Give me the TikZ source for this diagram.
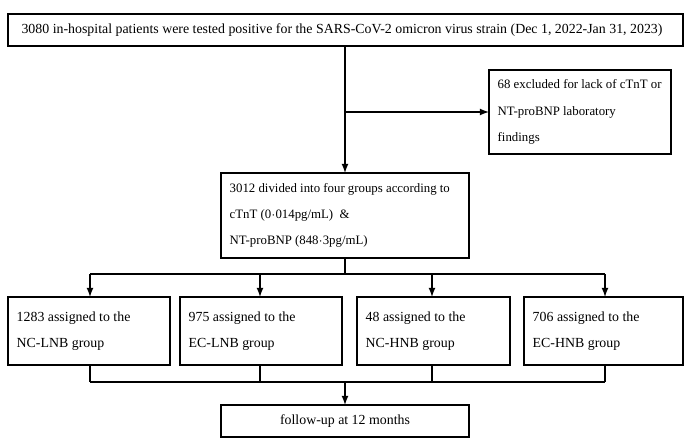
\documentclass[tikz,border=0pt]{standalone}
\usepackage{fontspec}
\setmainfont{Liberation Serif}
\usetikzlibrary{arrows,positioning}
\begin{document}
\begin{tikzpicture}[x=0.02cm,y=-0.02cm,font=\fontsize{7.9}{15}\selectfont,
  box/.style={draw,thick,inner sep=0pt},
  txt/.style={align=left,inner sep=0pt},
  small/.style={font=\fontsize{7.3}{15}\selectfont},
  every path/.style={thick},arr/.style={-latex}]
	\useasboundingbox (0,0) rectangle (692,447);
	% boxes
	\draw (8,14) rectangle (683,46);
	\node[txt] (top) at (342,30) {3080 in-hospital patients were tested positive for the SARS-CoV-2 omicron virus strain (Dec 1, 2022-Jan 31, 2023)};
	\draw (489,70) rectangle (671,154);
	\node[txt,small,anchor=west] (excl) at (497,112) {68 excluded for lack of cTnT or\\NT-proBNP laboratory\\findings};
	\draw (221,173) rectangle (469,258);
	\node[txt,small,anchor=west] (mid) at (229,215.5) {3012 divided into four groups according to\\cTnT (0$\cdot$014pg/mL)\ \ \&\\NT-proBNP (848$\cdot$3pg/mL)};
	\foreach \xa/\xb/\name/\t in {8/170/g1/{1283 assigned to the\\NC-LNB group},180/342/g2/{975 assigned to the\\EC-LNB group},357/510/g3/{48 assigned to the\\NC-HNB group},524/683/g4/{706 assigned to the\\EC-HNB group}}{
		\draw (\xa,297) rectangle (\xb,365);
		\node[txt,anchor=west] (\name) at (\xa+8,331) {\t};
	}
	\draw (221,405) rectangle (469,437);
	\node[txt] (fu) at (345,421) {follow-up at 12 months};
	% connectors
	\coordinate (a) at (345,46);
	\coordinate (b) at (345,173);
	\coordinate (c) at (345,112);
	\coordinate (d) at (489,112);
	\draw[arr] (a) -- (b);
	\draw[arr] (c) -- (d);
	\draw (345,258) -- (345,274);
	\draw (90,274) -- (605,274);
	\foreach \x in {90,260,432,605}{
		\draw[arr] (\x,274) -- (\x,297);
		\draw (\x,365) -- (\x,382);
	}
	\draw (90,382) -- (605,382);
	\draw[arr] (345,382) -- (345,405);
\end{tikzpicture}
\end{document}
